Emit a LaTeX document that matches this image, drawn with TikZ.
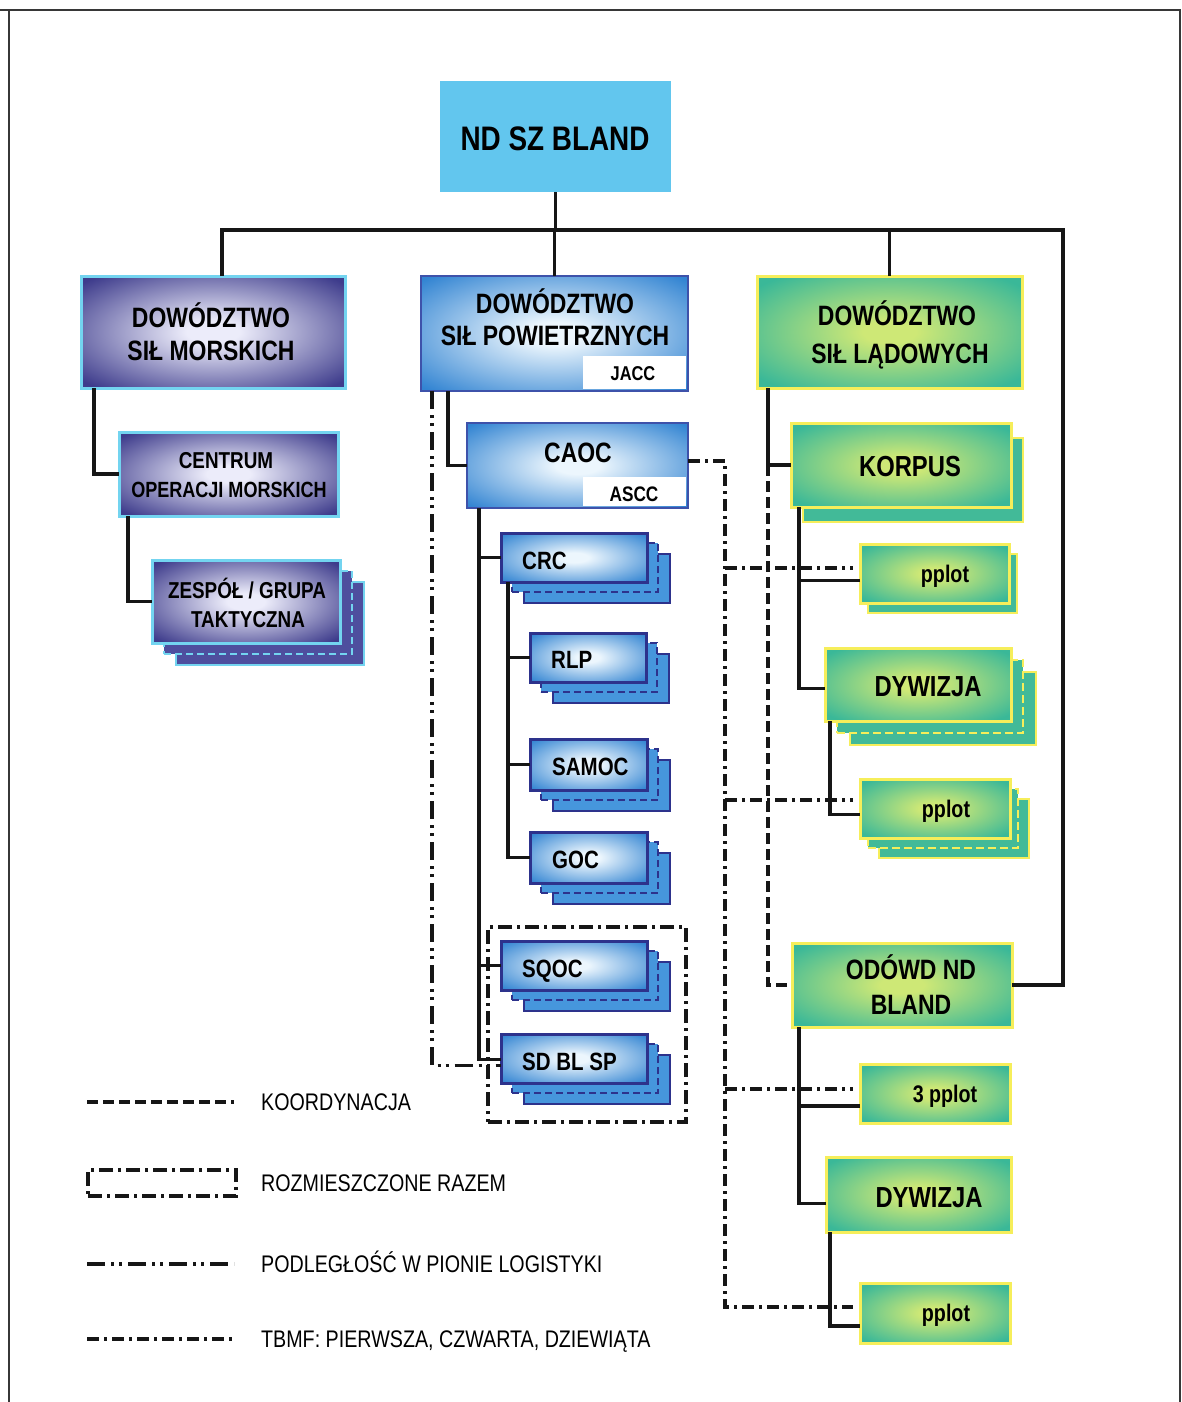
\documentclass[tikz,border=0pt]{standalone}
\usepackage{fontspec}
\newfontfamily\cf{Liberation Sans}[FakeStretch=0.82]
\usetikzlibrary{calc}
\definecolor{ink}{RGB}{22,22,22}
\definecolor{framec}{RGB}{55,55,55}
\definecolor{ndc}{RGB}{98,198,238}
\definecolor{blueO}{RGB}{50,132,210}
\definecolor{blueI}{RGB}{236,246,253}
\definecolor{blueC}{RGB}{70,150,220}
\definecolor{navy}{RGB}{45,50,140}
\definecolor{blueE}{RGB}{62,82,170}
\definecolor{purO}{RGB}{62,60,140}
\definecolor{purI}{RGB}{236,236,250}
\definecolor{purC}{RGB}{78,78,158}
\definecolor{cyanE}{RGB}{115,212,240}
\definecolor{grnO}{RGB}{58,184,152}
\definecolor{grnI}{RGB}{206,232,118}
\definecolor{grnC}{RGB}{66,186,152}
\definecolor{ylw}{RGB}{246,238,90}
\pgfdeclareradialshading{blueSh}{\pgfpoint{0bp}{0bp}}{color(0bp)=(blueI); color(5bp)=(blueI); color(34bp)=(blueO); color(50bp)=(blueO)}
\pgfdeclareradialshading{purSh}{\pgfpoint{0bp}{0bp}}{color(0bp)=(purI); color(5bp)=(purI); color(33bp)=(purO); color(50bp)=(purO)}
\pgfdeclareradialshading{grnSh}{\pgfpoint{0bp}{0bp}}{color(0bp)=(grnI); color(5bp)=(grnI); color(32bp)=(grnO); color(50bp)=(grnO)}
\begin{document}
\begin{tikzpicture}[x=1pt,y=-1pt,
  base/.style={rectangle, inner sep=0pt, outer sep=0pt, anchor=north west},
  bbox/.style={base, shading=blueSh, draw=navy, line width=3pt},
  bcopy/.style={base, fill=blueC, draw=navy, line width=2.5pt},
  bcopyd/.style={bcopy, dash pattern=on 7pt off 4pt},
  bbig/.style={base, shading=blueSh, draw=blueE, line width=2pt},
  pbox/.style={base, shading=purSh, draw=cyanE, line width=3pt},
  pcopy/.style={base, fill=purC, draw=cyanE, line width=2.5pt},
  pcopyd/.style={pcopy, dash pattern=on 7pt off 4pt},
  gbox/.style={base, shading=grnSh, draw=ylw, line width=3pt},
  gcopy/.style={base, fill=grnC, draw=ylw, line width=2.5pt},
  gcopyd/.style={gcopy, dash pattern=on 8pt off 4pt},
  inset/.style={base, fill=white},
  conn/.style={draw=ink, line width=3.5pt},
  koord/.style={draw=ink, line width=3.5pt, dash pattern=on 11pt off 5pt},
  rozmst/.style={base, draw=ink, line width=3.5pt, dash pattern=on 14pt off 5pt on 3pt off 5pt},
  logi/.style={draw=ink, line width=3.5pt, dash pattern=on 18pt off 6pt on 3pt off 5pt on 3pt off 6pt},
  tbmf/.style={draw=ink, line width=3.5pt, dash pattern=on 12pt off 5pt on 3pt off 5pt},
  lbl/.style={inner sep=0pt, anchor=base, text=black},
  lblw/.style={inner sep=0pt, anchor=base west, text=black},
  F/.style={font=\cf\bfseries\fontsize{#1pt}{#1pt}\selectfont},
  R/.style={font=\cf\fontsize{#1pt}{#1pt}\selectfont}
]
\useasboundingbox (0,0) rectangle (1182,1402);
\fill[white] (0,0) rectangle (1182,1402);
% frame
\draw[framec, line width=2.5pt] (9,1402) -- (9,10) -- (1180,10) -- (1180,1402);
\draw[framec, line width=2.5pt] (0,10) -- (9,10);

% ---------- top ----------
\node[base, fill=ndc, minimum width=231pt, minimum height=111pt] (nd) at (440,81) {};
\node[lbl, F=34] (ndt) at (555,150) {ND SZ BLAND};

% ---------- naval ----------
\node[pbox, minimum width=264pt, minimum height=112pt] (msk) at (81,276) {};
\node[lbl, F=28] (mskt1) at (211,327) {DOWÓDZTWO};
\node[lbl, F=28] (mskt2) at (211,360) {SIŁ MORSKICH};
\node[pbox, minimum width=219pt, minimum height=84pt] (cent) at (119,432) {};
\node[lbl, F=23] (centt1) at (226,468) {CENTRUM};
\node[lbl, F=22] (centt2) at (229,497) {OPERACJI MORSKICH};
\node[pcopy, minimum width=188pt, minimum height=83pt] (zesp3) at (176,582) {};
\node[pcopyd, minimum width=188pt, minimum height=83pt] (zesp2) at (164,571) {};
\node[pbox, minimum width=188pt, minimum height=83pt] (zesp) at (152,560) {};
\node[lbl, F=23] (zespt1) at (247,598) {ZESPÓŁ / GRUPA};
\node[lbl, F=23] (zespt2) at (248,627) {TAKTYCZNA};

% ---------- air ----------
\node[bbig, minimum width=267pt, minimum height=115pt] (pow) at (421,276) {};
\node[inset, minimum width=103pt, minimum height=33pt] (jacc) at (583,356) {};
\node[lbl, F=28] (powt1) at (555,313) {DOWÓDZTWO};
\node[lbl, F=28] (powt2) at (555,345) {SIŁ POWIETRZNYCH};
\node[lbl, F=20] (jacct) at (633,380) {JACC};
\node[bbig, minimum width=221pt, minimum height=85pt] (caoc) at (467,423) {};
\node[inset, minimum width=103pt, minimum height=29pt] (ascc) at (583,477) {};
\node[lbl, F=28] (caoct) at (578,462) {CAOC};
\node[lbl, F=21] (ascct) at (634,501.5) {ASCC};

\node[rozmst, minimum width=198pt, minimum height=195pt] (rozm) at (488,927) {};

\foreach \nm/\xx/\yy/\ww/\hh in {crc/501/533/146/49, rlp/530/633/116/49, samoc/530/739/117/51, goc/530/832/117/51, sqoc/501/941/146/49, sdbl/501/1034/146/49}{
  \node[bcopy, minimum width=\ww pt, minimum height=\hh pt] (\nm3) at (\xx+23,\yy+21) {};
  \node[bcopyd, minimum width=\ww pt, minimum height=\hh pt] (\nm2) at (\xx+11,\yy+10) {};
  \node[bbox, minimum width=\ww pt, minimum height=\hh pt] (\nm) at (\xx,\yy) {};
}
\node[lblw, F=25] (crct) at (522,569) {CRC};
\node[lblw, F=25] (rlpt) at (551,668) {RLP};
\node[lblw, F=25] (samoct) at (552,775) {SAMOC};
\node[lblw, F=25] (goct) at (552,868) {GOC};
\node[lblw, F=25] (sqoct) at (522,977) {SQOC};
\node[lblw, F=25] (sdblt) at (522,1070) {SD BL SP};

% ---------- land ----------
\node[gbox, minimum width=265pt, minimum height=112pt] (lad) at (757,276) {};
\node[lbl, F=28] (ladt1) at (897,325) {DOWÓDZTWO};
\node[lbl, F=28] (ladt2) at (900,363) {SIŁ LĄDOWYCH};
\node[gcopy, minimum width=220pt, minimum height=84pt] (korp2) at (803,438) {};
\node[gbox, minimum width=220pt, minimum height=84pt] (korp) at (791,423) {};
\node[lbl, F=29] (korpt) at (910,476) {KORPUS};
\node[gcopy, minimum width=149pt, minimum height=59pt] (pp12) at (868,554) {};
\node[gbox, minimum width=149pt, minimum height=59pt] (pp1) at (860,544) {};
\node[lbl, F=24] (pp1t) at (945,582) {pplot};
\node[gcopy, minimum width=186pt, minimum height=73pt] (dyw13) at (850,672) {};
\node[gcopyd, minimum width=186pt, minimum height=73pt] (dyw12) at (837,660) {};
\node[gbox, minimum width=186pt, minimum height=73pt] (dyw1) at (825,648) {};
\node[lbl, F=29] (dyw1t) at (928,696) {DYWIZJA};
\node[gcopy, minimum width=150pt, minimum height=59pt] (pp23) at (879,799) {};
\node[gcopyd, minimum width=150pt, minimum height=59pt] (pp22) at (868,789) {};
\node[gbox, minimum width=150pt, minimum height=59pt] (pp2) at (860,779) {};
\node[lbl, F=24] (pp2t) at (946,817) {pplot};
\node[gbox, minimum width=220pt, minimum height=84pt] (odowd) at (792,943) {};
\node[lbl, F=28] (odowdt1) at (911,979) {ODÓWD ND};
\node[lbl, F=28] (odowdt2) at (911,1014) {BLAND};
\node[gbox, minimum width=150pt, minimum height=59pt] (pp3) at (860,1064) {};
\node[lbl, F=24] (pp3t) at (945,1102) {3 pplot};
\node[gbox, minimum width=185pt, minimum height=75pt] (dyw2) at (826,1157) {};
\node[lbl, F=29] (dyw2t) at (929,1207) {DYWIZJA};
\node[gbox, minimum width=150pt, minimum height=60pt] (pp4) at (860,1283) {};
\node[lbl, F=24] (pp4t) at (946,1321) {pplot};

% ---------- solid connectors ----------
\coordinate (busL) at (222,230);
\coordinate (busR) at (1063,230);
\draw[conn] (nd.south) -- (nd.south |- busL);
\draw[conn] (busL |- msk.north) -- (busL) -- (busR) |- (odowd.east);
\draw[conn] (pow.north) -- (pow.north |- busL);
\draw[conn] (lad.north) -- (lad.north |- busL);
\draw[conn] ([xshift=13pt]msk.south west) |- (cent.west);
\draw[conn] ([xshift=9pt]cent.south west) |- (zesp.west);
\draw[conn] ([xshift=27pt]pow.south west) |- (caoc.west);
\coordinate (cv) at ([xshift=12pt]caoc.south west);
\draw[conn] (cv) |- ([yshift=-1pt]sdbl.west);
\draw[conn] (crc.west) -- (crc.west -| cv);
\draw[conn] (sqoc.west) -- (sqoc.west -| cv);
\coordinate (rv) at ([xshift=7pt]crc.south west);
\draw[conn] (rv) |- (goc.west);
\draw[conn] (rlp.west) -- (rlp.west -| rv);
\draw[conn] (samoc.west) -- (samoc.west -| rv);
\coordinate (lv) at ([xshift=11pt]lad.south west);
\draw[conn] (lv) |- (korp.west);
\coordinate (kv) at ([xshift=8pt]korp.south west);
\draw[conn] (kv) |- ([yshift=-4pt]dyw1.west);
\draw[conn] ([yshift=-7pt]pp1.west) -- ([yshift=-7pt]pp1.west -| kv);
\draw[conn] ([xshift=5pt]dyw1.south west) |- ([yshift=-6pt]pp2.west);
\coordinate (ov) at ([xshift=7pt]odowd.south west);
\draw[conn] (ov) |- ([yshift=-9pt]dyw2.west);
\draw[conn] ([yshift=-12.5pt]pp3.west) -- ([yshift=-12.5pt]pp3.west -| ov);
\draw[conn] ([xshift=4pt]dyw2.south west) |- ([yshift=-13pt]pp4.west);

% ---------- coordination (dashed) ----------
\draw[koord] (lv |- korp.west) |- (odowd.west);

% ---------- logistics (dash dot dot) ----------
\coordinate (gx) at ([xshift=11pt]pow.south west);
\draw[logi] (gx) |- ([yshift=-7pt]sdbl.west);

% ---------- TBMF (dash dot) ----------
\coordinate (tx) at (725,461);
\coordinate (p1d) at ([xshift=-7pt,yshift=5.5pt]pp1.west);
\coordinate (p2d) at ([xshift=-7pt,yshift=8.5pt]pp2.west);
\coordinate (p3d) at ([xshift=-7pt,yshift=4.5pt]pp3.west);
\coordinate (p4d) at ([xshift=-7pt,yshift=6pt]pp4.west);
\draw[tbmf] ([yshift=4.5pt]caoc.east) -- (tx) -- (tx |- p4d) -- (p4d);
\draw[tbmf] (tx |- p1d) -- (p1d);
\draw[tbmf] (tx |- p2d) -- (p2d);
\draw[tbmf] (tx |- p3d) -- (p3d);

% ---------- legend ----------
\coordinate (k1) at (87,1102);
\coordinate (k2) at (234,1102);
\draw[koord] (k1) -- (k2);
\node[rozmst, minimum width=148pt, minimum height=26pt] (lgr) at (88,1170) {};
\coordinate (g1) at (87,1264);
\coordinate (g2) at (234,1264);
\draw[logi] (g1) -- (g2);
\coordinate (b1) at (87,1339);
\coordinate (b2) at (234,1339);
\draw[tbmf] (b1) -- (b2);
\node[lblw, R=24] (lt1) at (261,1110.5) {KOORDYNACJA};
\node[lblw, R=24] (lt2) at (261,1191.5) {ROZMIESZCZONE RAZEM};
\node[lblw, R=24] (lt3) at (261,1272.5) {PODLEGŁOŚĆ W PIONIE LOGISTYKI};
\node[lblw, R=24] (lt4) at (261,1347.5) {TBMF: PIERWSZA, CZWARTA, DZIEWIĄTA};
\end{tikzpicture}
\end{document}
